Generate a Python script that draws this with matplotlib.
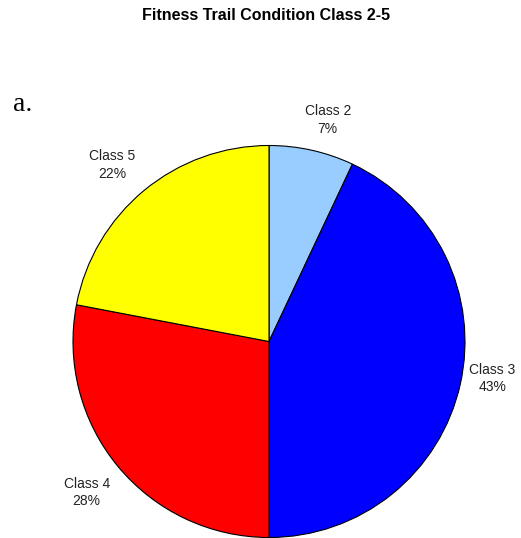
import matplotlib
matplotlib.use('Agg')
import matplotlib.pyplot as plt

# Data
classes = ['Class 2', 'Class 3', 'Class 4', 'Class 5']
shares = [7, 43, 28, 22]
colors = ['#99CCFF', '#0000FF', '#FF0000', '#FFFF00']

# label positions (pie data units, radius 1)
label_xy = [(0.30, 1.13), (1.14, -0.19), (-0.93, -0.77), (-0.80, 0.90)]

plt.rcParams['font.family'] = ['Liberation Sans', 'DejaVu Sans']

fig = plt.figure(figsize=(5.21, 5.38), dpi=100)
fig.patch.set_facecolor('white')

# pie axes: centre ~ (269, 341) px, radius ~196 px
cx, cy, r = 269, 341.5, 196
W, H = 521, 538
ax = fig.add_axes([(cx - r) / W, (H - cy - r) / H, 2 * r / W, 2 * r / H])
ax.pie(shares, colors=colors, startangle=90, counterclock=False, radius=1,
       wedgeprops=dict(edgecolor='black', linewidth=0.8))
ax.set_xlim(-1, 1)
ax.set_ylim(-1, 1)
ax.set_aspect('equal')
ax.axis('off')

for name, pct, (lx, ly) in zip(classes, shares, label_xy):
    ax.text(lx, ly, f'{name}\n{pct}%', ha='center', va='center',
            fontsize=10, linespacing=1.3, color='#222222', clip_on=False)

fig.text(0.511, 0.972, 'Fitness Trail Condition Class 2-5', ha='center',
         va='center', fontsize=11.5, fontweight='bold')
fig.text(0.025, 0.805, 'a.', ha='left', va='center', fontsize=20,
         family='Liberation Serif')

fig.savefig('out.png', dpi=100)
